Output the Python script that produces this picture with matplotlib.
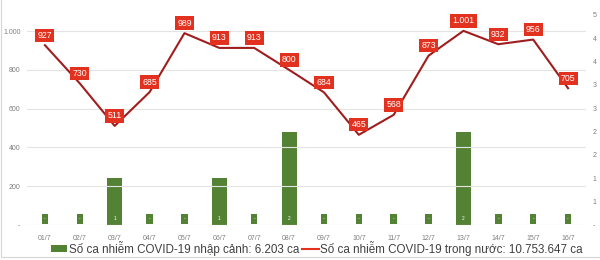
import numpy as np
import matplotlib.pyplot as plt
from matplotlib.patches import Patch
from matplotlib.lines import Line2D
from matplotlib.ticker import FixedLocator, FuncFormatter

dates = ["01/7", "02/7", "03/7", "04/7", "05/7", "06/7", "07/7", "08/7",
         "09/7", "10/7", "11/7", "12/7", "13/7", "14/7", "15/7", "16/7"]
imported = [0, 0, 1, 0, 0, 1, 0, 2, 0, 0, 0, 0, 2, 0, 0, 0]
domestic = [927, 730, 511, 685, 989, 913, 913, 800, 684, 465, 568, 873,
            1001, 932, 956, 705]
legend_labels = ["Số ca nhiễm COVID-19 nhập cảnh: 6.203 ca",
                 "Số ca nhiễm COVID-19 trong nước: 10.753.647 ca"]

GREEN = "#548235"
LINE_RED = "#a01d1d"
BOX_RED = "#e2321f"
GREY = "#7f7f7f"

plt.rcParams["font.family"] = ["Liberation Sans", "DejaVu Sans"]


def thousands(v):
    n = int(round(v))
    return "-" if n == 0 else f"{n:,}".replace(",", ".")


def excel_round(v, pos=None):
    n = int(np.floor(v + 0.5))
    return "-" if n == 0 else str(n)


fig = plt.figure(figsize=(6, 2.6), dpi=100)
ax = fig.add_axes([27.5 / 600, 1 - 225 / 260, 558 / 600, 225 / 260])
ax2 = ax.twinx()

x = np.arange(len(dates))

# bars (right axis)
ax2.bar(x, imported, width=0.43, color=GREEN, zorder=2)
for xi, v in zip(x, imported):
    ax2.annotate(excel_round(v), (xi, 0), xytext=(0, 4.5), textcoords="offset points",
                 ha="center", va="center", fontsize=3.5, color="white",
                 bbox=dict(boxstyle="square,pad=0.5", fc=GREEN, ec="none"), zorder=3)

# line (left axis)
ax.set_zorder(ax2.get_zorder() + 1)
ax.patch.set_visible(False)
ax.plot(x, domestic, color=LINE_RED, lw=1.5, zorder=3)
for xi, v in zip(x, domestic):
    ax.annotate(thousands(v), (xi, v), xytext=(0, 7.2), textcoords="offset points",
                ha="center", va="center", fontsize=6.3, color="white",
                bbox=dict(boxstyle="square,pad=0.25", fc=BOX_RED, ec="none"), zorder=4)

ax.set_xlim(-0.5, len(dates) - 0.5)
ax.set_ylim(0, 1160)
ax2.set_ylim(0, 4.82)

ax.set_yticks([0, 200, 400, 600, 800, 1000])
ax.yaxis.set_major_formatter(FuncFormatter(lambda v, p: thousands(v)))
ax.set_xticks(x)
ax.set_xticklabels(dates)
ax2.yaxis.set_major_locator(FixedLocator(np.arange(0, 5, 0.5)))
ax2.yaxis.set_major_formatter(FuncFormatter(excel_round))

for a in (ax, ax2):
    for s in a.spines.values():
        s.set_visible(False)
ax.tick_params(axis="both", length=0, labelsize=5, labelcolor=GREY)
ax.tick_params(axis="y", pad=5)
ax.tick_params(axis="x", pad=7)
ax2.tick_params(axis="y", length=0, labelsize=5, labelcolor=GREY, pad=5)

for g in [200, 400, 600, 800, 1000]:
    ax.axhline(g, color="#e4e4e4", lw=0.8, zorder=0)
ax.axhline(0, color="#d0d0d0", lw=0.8, zorder=1)

handles = [Patch(facecolor=GREEN, edgecolor="none"),
           Line2D([0], [0], color=BOX_RED, lw=1.5)]
fig.legend(handles, legend_labels, loc="center", bbox_to_anchor=(0.528, 12 / 260),
           ncol=2, frameon=False, fontsize=8.4, handlelength=1.4, handleheight=0.6,
           handletextpad=0.1, columnspacing=0.3, labelcolor="#404040")

# thin frame on left and bottom like the source image
fig.add_artist(Line2D([0.002, 0.002], [0.01, 1], color="#d6d6d6", lw=0.8,
                      transform=fig.transFigure))
fig.add_artist(Line2D([0.002, 1], [0.01, 0.01], color="#d6d6d6", lw=0.8,
                      transform=fig.transFigure))

fig.savefig("out.png", dpi=100)
